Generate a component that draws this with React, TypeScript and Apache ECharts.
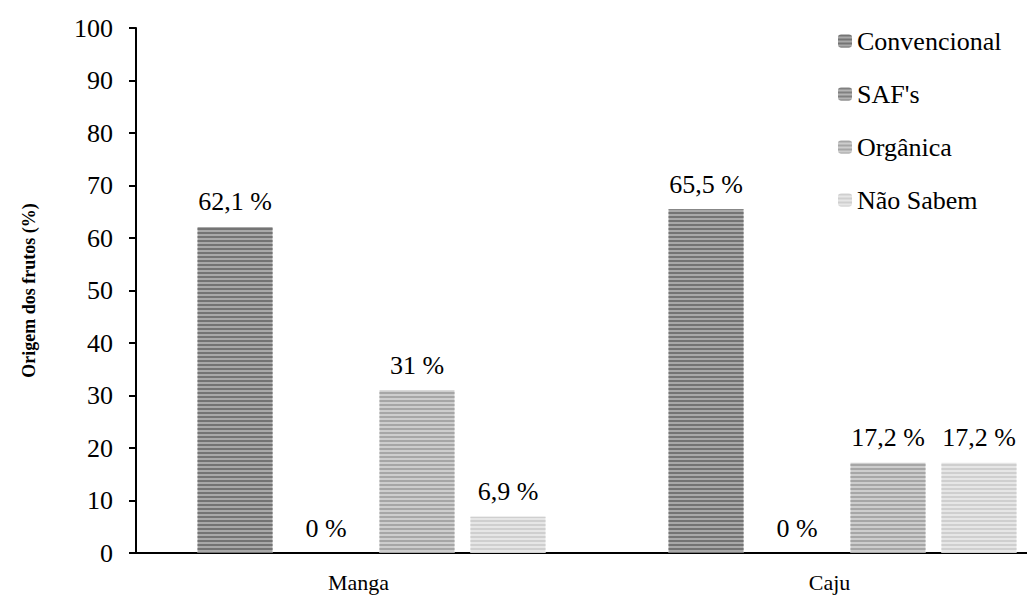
import React, { useEffect, useRef } from "react";
import * as echarts from "echarts";

const categories = ["Manga", "Caju"];
const seriesNames = ["Convencional", "SAF's", "Orgânica", "Não Sabem"];
const convencional = [62.1, 65.5];
const safs = [0, 0];
const organica = [31, 17.2];
const naoSabem = [6.9, 17.2];
const yTicks = [0, 10, 20, 30, 40, 50, 60, 70, 80, 90, 100];

const FONT = "Liberation Serif";
const baseColors = ["#a9a9a9", "#b4b4b4", "#cdcdcd", "#e6e6e6"];
const stripeColors = ["#747474", "#808080", "#a6a6a6", "#cfcfcf"];

export default function App() {
  const ref = useRef<HTMLDivElement>(null);

  useEffect(() => {
    if (!ref.current) return;
    const chart = echarts.init(ref.current, null, { renderer: "svg" });
    const values = [convencional, safs, organica, naoSabem];

    chart.setOption({
      animation: false,
      backgroundColor: "#ffffff",
      textStyle: { fontFamily: FONT, color: "#000" },
      grid: { left: 136, top: 28, bottom: 46, right: 2 },
      legend: {
        orient: "vertical",
        left: 838,
        top: 28,
        padding: 0,
        itemWidth: 14,
        itemHeight: 13,
        itemGap: 27,
        textStyle: { fontFamily: FONT, fontSize: 26, color: "#000" },
        data: seriesNames,
      },
      xAxis: {
        type: "category",
        data: categories,
        axisLine: { lineStyle: { color: "#000", width: 2 } },
        axisTick: { show: false },
        axisLabel: {
          fontFamily: FONT,
          fontSize: 22,
          color: "#000",
          margin: 18,
          padding: [0, 26, 0, 0],
        },
      },
      yAxis: {
        type: "value",
        min: yTicks[0],
        max: yTicks[yTicks.length - 1],
        interval: 10,
        name: "Origem dos frutos (%)",
        nameLocation: "middle",
        nameGap: 98,
        nameTextStyle: { fontFamily: FONT, fontSize: 18, fontWeight: "bold", color: "#000" },
        axisLine: { show: true, lineStyle: { color: "#000", width: 2 } },
        axisTick: { show: true, inside: false, length: 7, lineStyle: { color: "#000", width: 2 } },
        splitLine: { show: false },
        axisLabel: { fontFamily: FONT, fontSize: 26, color: "#000", margin: 23 },
      },
      series: seriesNames.map((name, i) => ({
        name,
        type: "bar",
        data: values[i],
        barWidth: 75,
        barGap: "21.3%",
        itemStyle: {
          color: baseColors[i],
          decal: {
            symbol: "rect",
            symbolSize: 1,
            rotation: 0,
            dashArrayX: [1, 0],
            dashArrayY: [1.5, 1.5],
            color: stripeColors[i],
          },
        },
        label: {
          show: true,
          position: "top",
          distance: 12,
          fontFamily: FONT,
          fontSize: 26,
          color: "#000",
          formatter: (p: any) => String(p.value).replace(".", ",") + " %",
        },
      })),
    });

    return () => chart.dispose();
  }, []);

  return (
    <div
      style={{ position: "absolute", left: 0, top: 0, width: 1027, height: 599, overflow: "hidden", background: "#fff" }}
    >
      <div ref={ref} style={{ width: 1080, height: 599 }} />
    </div>
  );
}
